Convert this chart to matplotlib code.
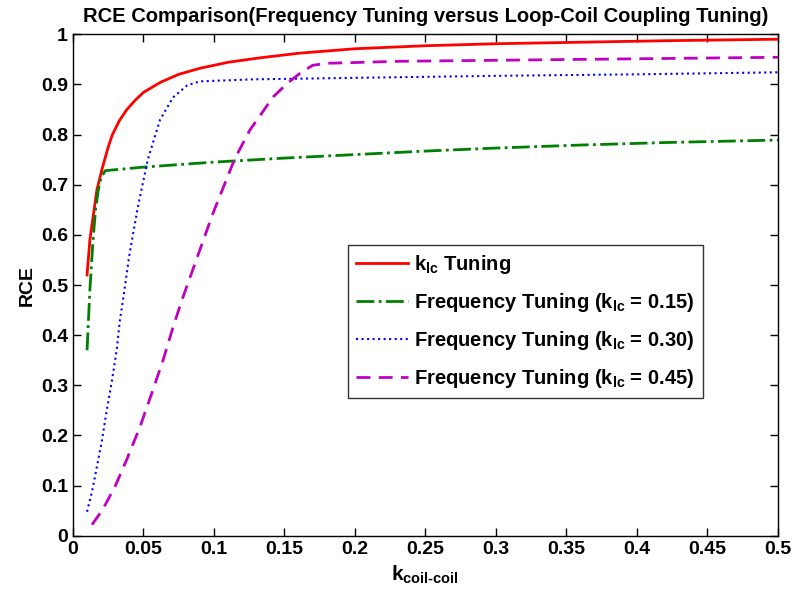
import numpy as np
import matplotlib
matplotlib.use("Agg")
import matplotlib.pyplot as plt

plt.rcParams['font.family'] = ['Liberation Sans', 'DejaVu Sans']
plt.rcParams['font.weight'] = 'bold'
plt.rcParams['axes.labelweight'] = 'bold'
plt.rcParams['axes.titleweight'] = 'bold'
plt.rcParams['mathtext.fontset'] = 'custom'
plt.rcParams['mathtext.rm'] = 'Liberation Sans:bold'
plt.rcParams['mathtext.it'] = 'Liberation Sans:bold'
plt.rcParams['mathtext.bf'] = 'Liberation Sans:bold'
plt.rcParams['mathtext.default'] = 'rm'

# kc tuning
x_lc = [0.01, 0.012, 0.014, 0.017, 0.021, 0.025, 0.028, 0.033, 0.038, 0.044, 0.05,
        0.062, 0.075, 0.09, 0.11, 0.133, 0.16, 0.2, 0.25, 0.3, 0.36, 0.42, 0.5]
y_lc = [0.52, 0.59, 0.63, 0.69, 0.735, 0.775, 0.80, 0.828, 0.849, 0.868, 0.884,
        0.904, 0.92, 0.932, 0.944, 0.953, 0.962, 0.971, 0.977, 0.981, 0.984, 0.987, 0.99]

# frequency tuning, klc = 0.15
x_f15 = [0.01, 0.011, 0.012, 0.014, 0.016, 0.018, 0.02, 0.023, 0.05, 0.1, 0.15,
         0.2, 0.25, 0.3, 0.36, 0.42, 0.5]
y_f15 = [0.37, 0.43, 0.49, 0.58, 0.65, 0.69, 0.715, 0.728, 0.735, 0.745, 0.753,
         0.76, 0.767, 0.773, 0.779, 0.784, 0.789]

# frequency tuning, klc = 0.30
x_f30 = [0.01, 0.0135, 0.017, 0.0206, 0.024, 0.0277, 0.031, 0.0333, 0.0355, 0.04,
         0.046, 0.053, 0.0617, 0.071, 0.081, 0.09, 0.128, 0.2, 0.3, 0.4, 0.5]
y_f30 = [0.048, 0.088, 0.138, 0.191, 0.251, 0.31, 0.37, 0.43, 0.47, 0.56,
         0.655, 0.749, 0.829, 0.874, 0.898, 0.906, 0.910, 0.913, 0.917, 0.920, 0.924]

# frequency tuning, klc = 0.45
x_f45 = [0.0135, 0.021, 0.0298, 0.038, 0.0475, 0.056, 0.064, 0.071, 0.0773, 0.0993,
         0.1135, 0.118, 0.1255, 0.134, 0.142, 0.152, 0.161, 0.170, 0.180, 0.232,
         0.3, 0.4, 0.5]
y_f45 = [0.022, 0.052, 0.098, 0.151, 0.217, 0.285, 0.351, 0.416, 0.47, 0.643,
         0.743, 0.769, 0.809, 0.843, 0.875, 0.902, 0.922, 0.938, 0.942, 0.946,
         0.948, 0.951, 0.954]

labels = [r'k$_{\mathregular{lc}}$ Tuning',
          r'Frequency Tuning (k$_{\mathregular{lc}}$ = 0.15)',
          r'Frequency Tuning (k$_{\mathregular{lc}}$ = 0.30)',
          r'Frequency Tuning (k$_{\mathregular{lc}}$ = 0.45)']

fig = plt.figure(figsize=(7.93, 6.0), dpi=100)
ax = fig.add_axes([0.092, 0.107, 0.889, 0.836])

ax.plot(x_lc, y_lc, color='red', lw=2, ls='-', label=labels[0])
ax.plot(x_f15, y_f15, color='#008000', lw=2, ls='-.', label=labels[1])
ax.plot(x_f30, y_f30, color='blue', lw=1.5, ls=':', label=labels[2])
ax.plot(x_f45, y_f45, color='#c000c0', lw=2, ls=(0, (5, 3)), label=labels[3])

ax.set_xlim(0, 0.5)
ax.set_ylim(0, 1)
ax.set_xticks(np.arange(0, 0.51, 0.05))
ax.set_xticklabels(['0', '0.05', '0.1', '0.15', '0.2', '0.25', '0.3', '0.35', '0.4', '0.45', '0.5'])
ax.set_yticks(np.arange(0, 1.01, 0.1))
ax.set_yticklabels(['0', '0.1', '0.2', '0.3', '0.4', '0.5', '0.6', '0.7', '0.8', '0.9', '1'])
ax.tick_params(direction='in', top=True, right=True, labelsize=14, length=6, width=1)
for s in ax.spines.values():
    s.set_linewidth(1)

ax.set_title('RCE Comparison(Frequency Tuning versus Loop-Coil Coupling Tuning)',
             fontsize=14.5, pad=9)
ax.set_xlabel(r'k$_{\mathregular{coil\text{-}coil}}$', fontsize=15)
ax.set_ylabel('RCE', fontsize=14)

leg = ax.legend(loc='upper left', bbox_to_anchor=(0.39, 0.58), fontsize=14.5,
                frameon=True, fancybox=False, edgecolor='black', handlelength=2.6,
                borderpad=0.4, labelspacing=0.75, handletextpad=0.3, borderaxespad=0)
leg.get_frame().set_linewidth(1)

fig.savefig('out.png', dpi=100)
